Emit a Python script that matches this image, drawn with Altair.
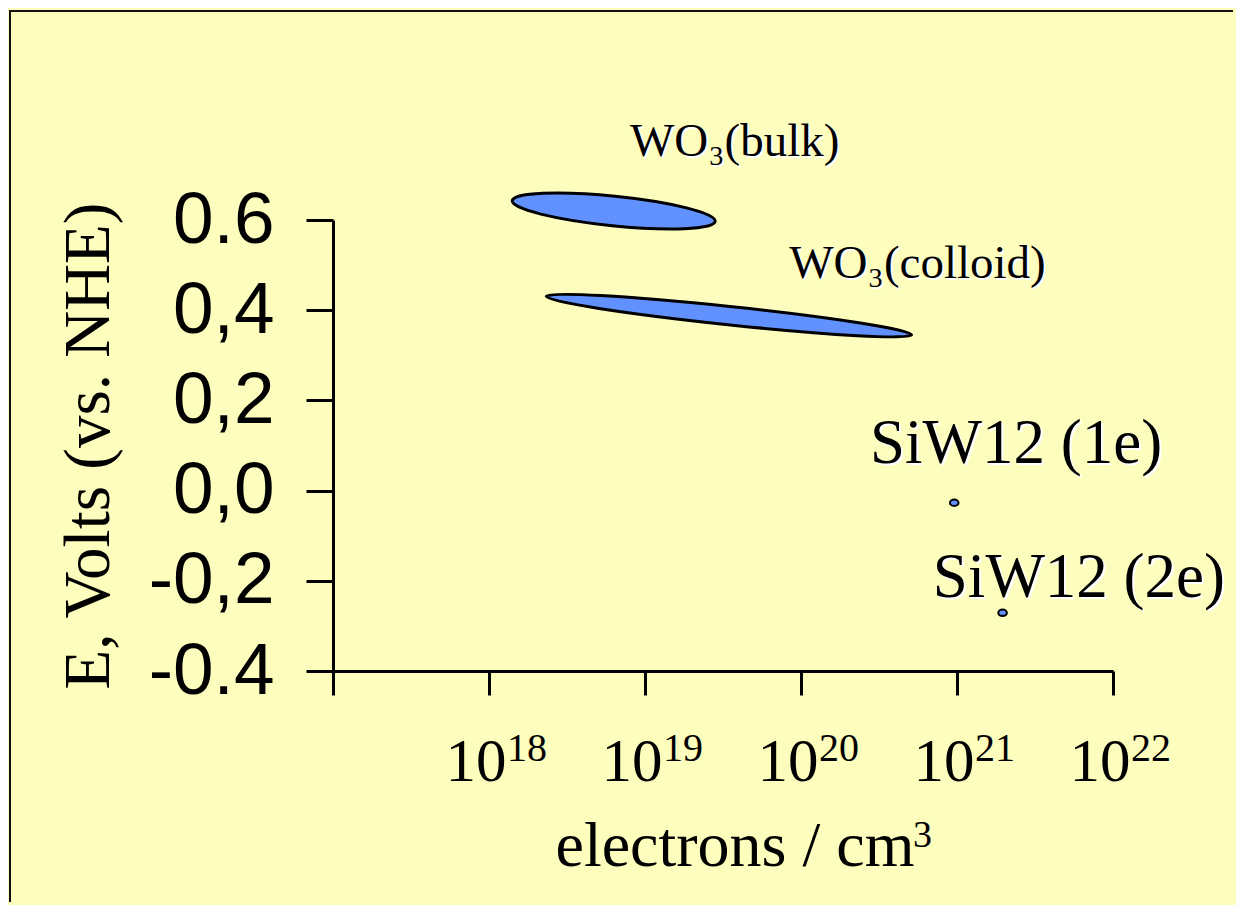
import altair as alt
import pandas as pd
import json

# ---- data ----
shape_names = ["WO3(bulk)", "WO3(colloid)", "SiW12 (1e)", "SiW12 (2e)"]
center_n = [6.3e18, 3.45e19, 9.6e20, 1.96e21]      # electrons / cm3
center_E = [0.62, 0.388, -0.027, -0.271]           # V vs NHE

label_text = ["WO₃(bulk)", "WO₃(colloid)", "SiW12 (1e)", "SiW12 (2e)"]
label_n = [8.0e18, 8.4e19, 2.77e20, 7.0e20]
label_E = [0.742, 0.471, 0.061, -0.236]

y_ticks = [-0.4, -0.2, 0.0, 0.2, 0.4, 0.6]
y_tick_labels = ["-0.4", "-0,2", "0,0", "0,2", "0,4", "0.6"]
x_exponents = [17, 18, 19, 20, 21, 22]
x_labelled = [18, 19, 20, 21, 22]
x_ticks = [10.0 ** e for e in x_exponents]

# ---- styling ----
BG = "#FDFDBE"
FILL = "#6191FF"
SERIF = "Liberation Serif"
SANS = "Liberation Sans"

# per-shape ellipse geometry (pixel style, not data)
shape_style = {
    "WO3(bulk)": dict(half=102.0, ratio=0.145, angle=5.8, sw=3),
    "WO3(colloid)": dict(half=183.7, ratio=0.05, angle=6.0, sw=3),
    "SiW12 (1e)": dict(half=4.3, ratio=0.75, angle=0, sw=2),
    "SiW12 (2e)": dict(half=4.3, ratio=0.75, angle=0, sw=2),
}


def ellipse_path(b):
    k = 0.5523
    return (f"M-1,0 C-1,{-k*b:.4f} {-k:.4f},{-b:.4f} 0,{-b:.4f} "
            f"C{k:.4f},{-b:.4f} 1,{-k*b:.4f} 1,0 "
            f"C1,{k*b:.4f} {k:.4f},{b:.4f} 0,{b:.4f} "
            f"C{-k:.4f},{b:.4f} -1,{k*b:.4f} -1,0 Z")


shapes_df = pd.DataFrame({"name": shape_names, "n": center_n, "E": center_E})
labels_df = pd.DataFrame({"name": shape_names, "text": label_text,
                          "n": label_n, "E": label_E})
exp_df = pd.DataFrame({"n": [10.0 ** e for e in x_labelled],
                       "E": [-0.4] * len(x_labelled),
                       "exp": [str(e) for e in x_labelled]})

W, H = 780, 451
PAD = {"left": 325, "top": 212, "right": 123, "bottom": 234}

x_scale = alt.Scale(type="log", domain=[1e17, 1e22], nice=False)
y_scale = alt.Scale(domain=[-0.4, 0.6], nice=False, zero=False)

y_expr = ("[" + ",".join(json.dumps(s) for s in y_tick_labels) + "]"
          "[indexof([" + ",".join(str(round(v * 10)) for v in y_ticks) + "], round(datum.value*10))]")
x_expr = ("indexof([" + ",".join(str(e) for e in x_labelled) +
          "], round(log(datum.value)/LN10)) >= 0 ? '10' : ''")

x_axis = alt.Axis(values=x_ticks, labelExpr=x_expr, grid=False,
                  domainColor="black", domainWidth=3, tickColor="black", tickWidth=3,
                  tickSize=24, labelFont=SERIF, labelFontSize=61, labelColor="black",
                  labelBaseline="alphabetic", labelPadding=85, labelAlign="right",
                  labelOffset=17, labelOverlap=False, labelFlush=False,
                  title="electrons / cm", titleFont=SERIF, titleFontSize=64,
                  titleFontWeight="normal", titleColor="black", titleX=222, titleY=194,
                  titleAlign="left", titleBaseline="alphabetic")
y_axis = alt.Axis(values=y_ticks, labelExpr=y_expr, grid=False,
                  domainColor="black", domainWidth=3, tickColor="black", tickWidth=3,
                  tickSize=27, labelFont=SANS, labelFontSize=73, labelColor="black",
                  labelPadding=32, labelBaseline="middle", labelOverlap=False,
                  labelFlush=False,
                  title="E, Volts (vs. NHE)", titleFont=SERIF, titleFontSize=65,
                  titleFontWeight="normal", titleColor="black", titleAngle=270,
                  titleX=-225, titleY=225.5, titleAlign="center",
                  titleBaseline="alphabetic")

layers = []

# axes carrier (invisible)
base = alt.Chart(shapes_df).mark_point(opacity=0).encode(
    x=alt.X("n:Q", scale=x_scale, axis=x_axis),
    y=alt.Y("E:Q", scale=y_scale, axis=y_axis),
)
layers.append(base)

one = pd.DataFrame({"k": [0]})

# frame (decoration): thin filled bars on the top and left edges, kept inside the canvas
layers.append(alt.Chart(one).mark_rect(color="#111111", strokeWidth=0).encode(
    x=alt.value(-324), x2=alt.value(-322), y=alt.value(-210), y2=alt.value(682)))
layers.append(alt.Chart(one).mark_rect(color="#111111", strokeWidth=0).encode(
    x=alt.value(-324), x2=alt.value(900), y=alt.value(-210), y2=alt.value(-208)))

# superscript exponents of the x tick labels
layers.append(alt.Chart(exp_df).mark_text(
    font=SERIF, fontSize=40, align="left", baseline="alphabetic",
    color="black", dx=18, dy=90).encode(
    x=alt.X("n:Q", scale=x_scale), y=alt.Y("E:Q", scale=y_scale), text="exp:N"))

# superscript 3 of the x title
layers.append(alt.Chart(one).mark_text(
    font=SERIF, fontSize=38, align="left", baseline="alphabetic", color="black",
    text="3").encode(x=alt.value(580), y=alt.value(627)))

for name in shape_names:
    st = shape_style[name]
    size = (2 * st["half"]) ** 2
    layers.append(
        alt.Chart(shapes_df).transform_filter(alt.datum.name == name).mark_point(
            shape=ellipse_path(st["ratio"]), size=size, angle=st["angle"],
            filled=True, fill=FILL, stroke="black", strokeWidth=st["sw"],
            opacity=1, fillOpacity=1, strokeOpacity=1,
        ).encode(
            x=alt.X("n:Q", scale=x_scale),
            y=alt.Y("E:Q", scale=y_scale),
        )
    )

for group, fs in ((["WO3(bulk)", "WO3(colloid)"], 47), (["SiW12 (1e)", "SiW12 (2e)"], 63)):
    flt = alt.FieldOneOfPredicate(field="name", oneOf=group)
    for color, d in (("#FFFFFF", 2), ("black", 0)):
        layers.append(
            alt.Chart(labels_df).transform_filter(flt).mark_text(
                font=SERIF, fontSize=fs, align="left", baseline="alphabetic",
                color=color, dx=d, dy=d,
            ).encode(
                x=alt.X("n:Q", scale=x_scale),
                y=alt.Y("E:Q", scale=y_scale),
                text="text:N",
            )
        )

chart = alt.layer(*layers).properties(
    width=W, height=H,
    autosize=alt.AutoSizeParams(type="none"),
    padding=PAD,
    background=BG,
).configure_view(stroke="transparent")

chart.save("out.html", embed_options={"renderer": "svg", "actions": False})
